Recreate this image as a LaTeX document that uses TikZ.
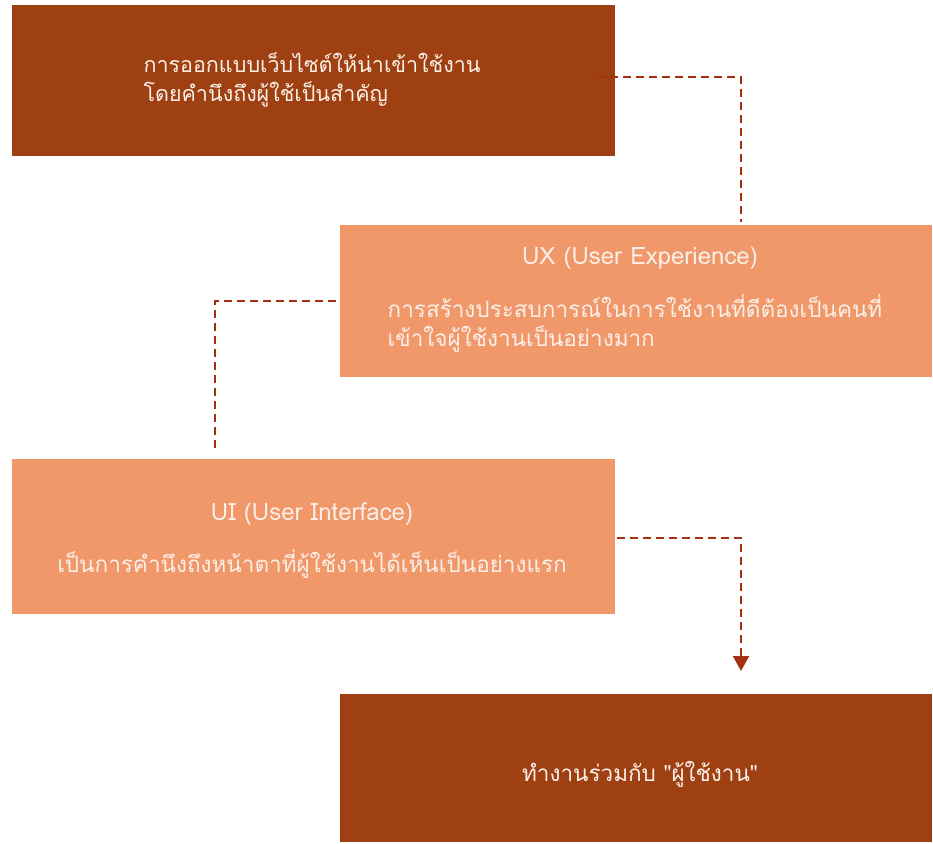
\documentclass[tikz,border=0pt]{standalone}
\usepackage{fontspec}
\setmainfont[Script=Thai]{Loma}
\usetikzlibrary{arrows.meta}
\definecolor{rust}{HTML}{9E4011}
\definecolor{salmon}{HTML}{F0986A}
\definecolor{linkred}{HTML}{A3300F}
\definecolor{paper}{HTML}{FBEFE8}
\tikzset{
  box/.style={inner sep=0pt, outer sep=0pt, text=paper, font=\fontsize{22.5}{29}\selectfont},
  darkbox/.style={box, fill=rust},
  lightbox/.style={box, fill=salmon},
  conn/.style={draw=linkred, line width=2pt, dash pattern=on 8pt off 5pt},
}
\begin{document}
\begin{tikzpicture}[x=1pt,y=1pt]
\useasboundingbox (0,0) rectangle (933,-843);

% the four blocks
\node[darkbox, minimum width=603pt, minimum height=151pt] (goal) at (313.5,-80.5) {};
\node[box, align=left, font=\fontsize{21.5}{29}\selectfont] (goaltxt) at (312,-80) {การออกแบบเว็บไซต์ให้น่าเข้าใช้งาน\\โดยคำนึงถึงผู้ใช้เป็นสำคัญ};

\node[lightbox, minimum width=592pt, minimum height=152pt] (ux) at (636,-301) {};
\node[box, font=\fontsize{24}{29}\selectfont] (uxtitle) at (640,-258) {UX (User Experience)};
\node[box, align=left] (uxtxt) at (635,-323) {การสร้างประสบการณ์ในการใช้งานที่ดีต้องเป็นคนที่\\เข้าใจผู้ใช้งานเป็นอย่างมาก};

\node[lightbox, minimum width=603pt, minimum height=155pt] (ui) at (313.5,-536.5) {};
\node[box, font=\fontsize{24}{29}\selectfont] (uititle) at (312,-514) {UI (User Interface)};
\node[box] (uitxt) at (312,-564) {เป็นการคำนึงถึงหน้าตาที่ผู้ใช้งานได้เห็นเป็นอย่างแรก};

\node[darkbox, minimum width=592pt, minimum height=148pt] (final) at (636,-768) {};
\node[box] (finaltxt) at (640,-774) {ทำงานร่วมกับ \textquotedbl ผู้ใช้งาน\textquotedbl};

% dashed links between the blocks
\draw[conn] ([shift={(-18pt,3.5pt)}]goal.east) -| ([shift={(105pt,3pt)}]ux.north);
\draw[conn] ([shift={(-4pt,0pt)}]ux.west) -| ([shift={(-98.5pt,9pt)}]ui.north);
\draw[conn, -{Triangle[width=16pt,length=15pt]}, shorten >=0pt]
  ([shift={(2pt,-1.5pt)}]ui.east) -| ([shift={(105pt,23pt)}]final.north);
\end{tikzpicture}
\end{document}
